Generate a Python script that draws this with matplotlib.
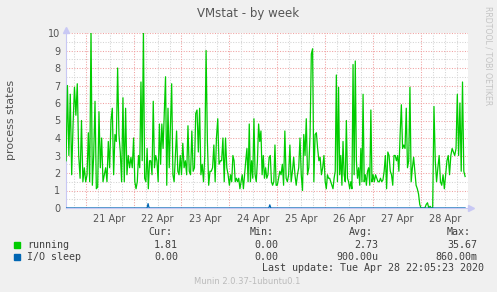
import numpy as np
import pandas as pd
import matplotlib
matplotlib.use("Agg")
import matplotlib.pyplot as plt

# running processes, one list per day (30-min-ish samples)
apr20 = [2.7, 7.0, 3.0, 6.5, 1.9, 4.8, 6.9, 5.3, 7.1, 3.0, 1.7, 5.0, 1.5, 2.3]
apr21 = [1.5, 1.9, 4.3, 1.5, 10.2, 1.3, 3.0, 6.1, 1.1, 1.2, 5.5, 2.3, 4.0, 1.5, 1.9, 2.3, 1.5, 3.8,
         2.3, 5.0, 5.7, 1.9, 4.2, 3.8, 8.0, 4.2, 3.2, 1.5, 6.3, 1.5, 5.7, 1.9, 3.0, 2.3, 2.9, 2.3]
apr22 = [4.0, 1.5, 1.1, 1.5, 3.0, 2.3, 7.2, 2.7, 10.2, 1.7, 1.5, 3.4, 1.1, 2.7, 2.7, 1.9, 6.1, 2.3, 3.0,
         2.7, 1.5, 4.8, 2.5, 4.8, 3.4, 5.5, 7.5, 1.3, 5.7, 2.3, 4.8, 7.1, 1.9, 1.5, 3.0, 4.4, 2.1, 1.9, 3.0]
apr23 = [1.9, 3.7, 2.3, 2.7, 1.9, 4.7, 2.1, 1.9, 4.4, 2.1, 2.3, 5.4, 5.6, 3.2, 5.7, 1.9, 2.5, 1.5, 3.0,
         9.0, 3.8, 1.3, 2.1, 2.1, 2.3, 3.6, 1.5, 4.0, 5.1, 2.5, 2.7, 2.7, 4.0, 1.5, 4.0, 2.3, 1.9]
apr24 = [1.3, 1.9, 1.5, 3.0, 2.7, 1.5, 1.7, 1.5, 1.7, 1.1, 1.5, 1.9, 1.1, 1.9, 2.7, 3.4, 1.5, 4.8, 1.5,
         2.7, 1.7, 5.1, 1.9, 1.5, 2.7, 4.8, 3.8, 4.4, 1.9, 3.0, 1.7, 2.3, 1.7, 1.9, 2.9, 3.0, 1.5, 1.3,
         1.5, 3.6, 1.3]
apr25 = [1.3, 1.7, 2.1, 1.9, 2.5, 1.3, 4.4, 1.7, 1.5, 1.9, 3.6, 1.5, 2.1, 2.9, 1.9, 1.3, 1.9, 2.3, 4.0,
         1.9, 1.0, 4.2, 3.0, 5.1, 1.9, 2.3, 4.2, 8.8, 9.1, 1.5, 4.2, 4.3, 3.4, 2.7, 2.9, 1.9, 2.3, 3.0]
apr26 = [1.5, 1.1, 1.9, 1.7, 1.7, 1.5, 1.3, 1.1, 1.7, 2.1, 7.6, 1.5, 6.9, 1.9, 3.0, 1.3, 3.8, 1.9, 1.5,
         5.0, 1.7, 1.5, 1.1, 1.5, 1.1, 8.2, 1.9, 8.4, 2.7, 1.7, 2.3, 1.3, 3.4, 1.5, 6.5, 1.5, 1.9, 1.3,
         2.1, 2.3, 1.3, 5.6, 1.5]
apr27 = [1.9, 1.5, 1.9, 1.7, 1.5, 1.5, 1.7, 1.5, 1.6, 2.1, 3.0, 1.1, 3.2, 3.0, 2.1, 1.9, 1.3, 3.0, 3.0,
         2.7, 3.0, 2.1, 4.2, 5.9, 3.4, 3.6, 3.4, 5.7, 2.3, 2.7, 6.9, 1.5, 2.3, 2.9, 2.1, 1.3, 1.1, 0.8, 0.2]
apr28 = [0.0, 0.0, 0.0, 0.0, 0.2, 0.3, 0.0, 0.1, 0.0, 0.0, 5.8, 2.7, 1.5, 2.3, 3.0, 1.5, 1.3, 1.9, 1.1,
         1.9, 2.7, 3.0, 1.9, 3.0, 3.4, 3.2, 3.0, 3.4, 6.5, 3.0, 6.0, 2.1, 7.2, 2.1, 1.8]

day_bounds = ["2020-04-20 14:10", "2020-04-21", "2020-04-22", "2020-04-23", "2020-04-24",
              "2020-04-25", "2020-04-26", "2020-04-27", "2020-04-28", "2020-04-28 22:45"]
running_days = [apr20, apr21, apr22, apr23, apr24, apr25, apr26, apr27, apr28]

# I/O sleep is flat zero apart from two tiny blips
io_blip_times = ["2020-04-22 07:15", "2020-04-24 20:15"]
io_blip_values = [0.25, 0.18]

day_labels = ["21 Apr", "22 Apr", "23 Apr", "24 Apr", "25 Apr", "26 Apr", "27 Apr", "28 Apr"]

legend_names = ["running", "I/O sleep"]
cur_vals = ["1.81", "0.00"]
min_vals = ["0.00", "0.00"]
avg_vals = ["2.73", "900.00u"]
max_vals = ["35.67", "860.00m"]

green = "#00CC00"
blue = "#0066B3"
txt = "#555555"

# build time series
times, values = [], []
for i, vals in enumerate(running_days):
    t = pd.date_range(day_bounds[i], day_bounds[i + 1], periods=len(vals) + 1)[:-1]
    times.extend(t)
    values.extend(vals)
times = pd.DatetimeIndex(times)

io_t = [pd.Timestamp(day_bounds[0])]
io_v = [0.0]
for bt, bv in zip(io_blip_times, io_blip_values):
    b = pd.Timestamp(bt)
    io_t += [b - pd.Timedelta("30min"), b, b + pd.Timedelta("30min")]
    io_v += [0.0, bv, 0.0]
io_t.append(pd.Timestamp("2020-04-28 22:05"))
io_v.append(0.0)

W, H = 497, 292
fig = plt.figure(figsize=(W / 100, H / 100), dpi=100, facecolor="#F0F0F0")
ax = fig.add_axes([66 / W, (H - 208) / H, 401.5 / W, 175 / H])
ax.set_facecolor("white")

x0 = pd.Timestamp("2020-04-20 14:08")
x1 = pd.Timestamp("2020-04-28 23:18")
ax.set_xlim(x0, x1)
ax.set_ylim(0, 10)

# grid lines in rrdtool style
for v in np.arange(0.5, 10.01, 0.5):
    c = "#F0A0A0" if v == int(v) else "#D4D4D4"
    ax.axhline(v, color=c, lw=0.75, ls=(0, (1, 1.5)), zorder=1)
for t in pd.date_range("2020-04-20 18:00", "2020-04-28 18:00", freq="6h"):
    c = "#F0A0A0" if t.hour == 0 else "#D4D4D4"
    ax.axvline(t, color=c, lw=0.75, ls=(0, (1, 1.5)), zorder=1)

ax.plot(times, values, color=green, lw=0.9, zorder=3)
ax.plot(io_t, io_v, color=blue, lw=0.9, zorder=4)

noons = pd.date_range("2020-04-21 12:00", periods=len(day_labels), freq="D")
ax.set_xticks(noons)
ax.set_xticklabels(day_labels)
ax.set_yticks(range(0, 11))
ax.tick_params(length=0, labelsize=7, colors=txt, pad=4)

for s in ["top", "right"]:
    ax.spines[s].set_visible(False)
ax.spines["left"].set_color("#C8C8F4")
ax.spines["bottom"].set_color("#C8C8F4")
ax.plot([0], [1.02], marker="^", ms=4, color="#C8C8F4", transform=ax.transAxes, clip_on=False)
ax.plot([1.008], [0], marker=">", ms=4, color="#C8C8F4", transform=ax.transAxes, clip_on=False)

fig.text(248 / W, 1 - 13 / H, "VMstat - by week", ha="center", va="center", fontsize=8.5, color=txt)
fig.text(11 / W, 1 - 120 / H, "process states", rotation=90, ha="center", va="center",
         fontsize=8, color=txt)
fig.text(488 / W, 1 - 56 / H, "RRDTOOL / TOBI OETIKER", rotation=270, ha="center", va="center",
         fontsize=5.6, color="#C4C4C4")

mono = dict(family="DejaVu Sans Mono", fontsize=7.2, color="#404040", va="center")
for label, xl in zip(["Cur:", "Min:", "Avg:", "Max:"], [148, 250, 349, 447]):
    fig.text(xl / W, 1 - 232 / H, label, ha="left", **mono)
colors = [green, blue]
for i, name in enumerate(legend_names):
    y = 245 + 12 * i
    fig.patches.append(plt.Rectangle((14 / W, 1 - (y + 3) / H), 6 / W, 6 / H,
                                     transform=fig.transFigure, color=colors[i]))
    fig.text(27 / W, 1 - y / H, name, ha="left", **mono)
    for col, xr in zip([cur_vals, min_vals, avg_vals, max_vals], [178, 278, 378, 477]):
        fig.text(xr / W, 1 - y / H, col[i], ha="right", **mono)
fig.text(262 / W, 1 - 268 / H, "Last update: Tue Apr 28 22:05:23 2020", ha="left", **mono)
fig.text(247.5 / W, 1 - 281 / H, "Munin 2.0.37-1ubuntu0.1", ha="center", va="center",
         fontsize=6, color="#BBBBBB")

fig.savefig("out.png", dpi=100, facecolor=fig.get_facecolor())
